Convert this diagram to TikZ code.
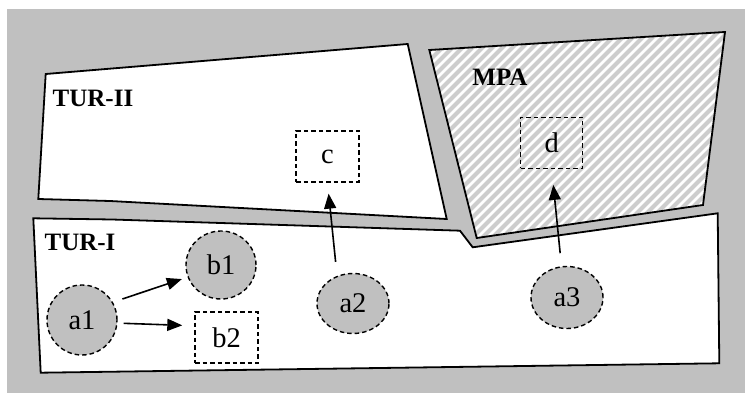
\documentclass[tikz,border=0pt]{standalone}
\usepackage{fontspec}
\setmainfont{Liberation Serif}
\usetikzlibrary{shapes.geometric,arrows.meta}
\definecolor{silver}{RGB}{192,192,192}
\definecolor{stripe}{RGB}{205,205,205}
\begin{document}
\begin{tikzpicture}[x=1pt,y=-1pt,
  region/.style={draw=black,fill=white,line width=1.8pt,line join=miter},
  dashb/.style={draw=black,line width=1.4pt,dash pattern=on 4.5pt off 3pt},
  actor/.style={dashb,ellipse,fill=silver,inner sep=0pt,font=\fontsize{28.5}{31}\selectfont},
  target/.style={dashb,rectangle,inner sep=0pt,minimum width=63pt,minimum height=51pt,font=\fontsize{28.5}{31}\selectfont},
  lbl/.style={inner sep=0pt,font=\fontsize{25}{28}\selectfont\bfseries},
  link/.style={-{Triangle[length=15pt,width=12pt]},line width=1.6pt}
]
\useasboundingbox (0,0) rectangle (745,393);
\fill[silver] (7,9) rectangle (745,393);
% TUR-II
\draw[region] (45.7,74) -- (407.7,44) -- (446.7,219) -- (110,201) -- (38.3,199) -- cycle;
% MPA
\fill[white] (429.3,50) -- (725,32) -- (703,205) -- (476.7,238) -- cycle;
\begin{scope}
  \clip (429.3,50) -- (725,32) -- (703,205) -- (476.7,238) -- cycle;
  \foreach \k in {160,170,...,760} {
    \draw[stripe,line width=4pt] (\k,260) -- (\k+240,20);
  }
\end{scope}
\draw[line width=1.8pt,line join=miter] (429.3,50) -- (725,32) -- (703,205) -- (476.7,238) -- cycle;
% TUR-I
\draw[region] (33.3,218.3) -- (112,219.5) -- (460,230.7) -- (472.7,247.3) -- (717.7,213.3) -- (719.3,363.3) -- (40.7,372.7) -- cycle;

\node[lbl] (tur2) at (93,98) {TUR-II};
\node[lbl] (mpa) at (500,77) {MPA};
\node[lbl] (tur1) at (80,242) {TUR-I};

\node[target] (c) at (327.5,156.5) {c};
\node[target,minimum width=62pt] (d) at (551.7,142.8) {d};
\node[target] (b2) at (226.5,337.5) {b2};

\node[actor,minimum width=70pt,minimum height=70pt] (a1) at (82,320) {a1};
\node[actor,minimum width=70pt,minimum height=68pt] (b1) at (221,265) {b1};
\node[actor,minimum width=72pt,minimum height=60pt] (a2) at (353,303.5) {a2};
\node[actor,minimum width=72pt,minimum height=62pt] (a3) at (567,297.5) {a3};

\draw[link,shorten <=10pt,shorten >=6pt] (a1.30) -- (b1.200);
\draw[link,shorten <=6pt,shorten >=12pt] (a1.355) -- (b2.160);
\draw[link,shorten <=14pt,shorten >=11pt] (a2.120) -- (c.south);
\draw[link,shorten <=13pt,shorten >=16pt] (a3.100) -- (d.south);
\end{tikzpicture}
\end{document}
